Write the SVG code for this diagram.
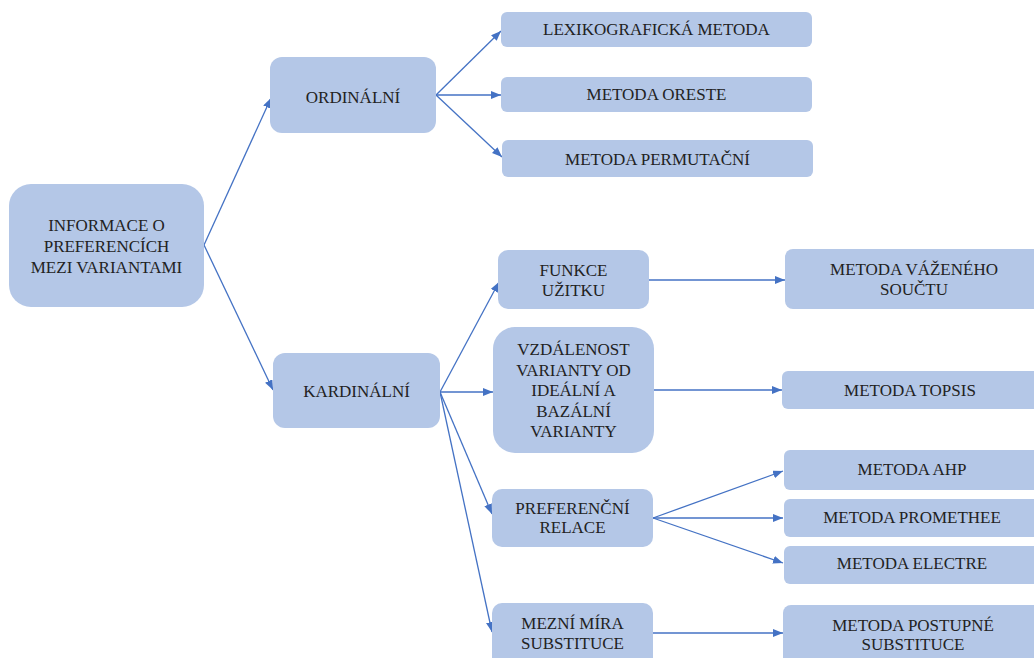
<svg xmlns="http://www.w3.org/2000/svg" width="1034" height="658" viewBox="0 0 1034 658">
<style>
.box{fill:#b4c7e7;}
.t{font-family:'Liberation Serif','Tinos','Times New Roman','DejaVu Serif','Noto Serif',serif;font-size:17px;fill:#222;text-anchor:middle;}
.c{stroke:#4472c4;stroke-width:1.3;fill:none;marker-end:url(#ah);}
</style>
<defs>
<marker id="ah" viewBox="0 0 10 8" refX="10" refY="4" markerWidth="10" markerHeight="8" markerUnits="userSpaceOnUse" orient="auto">
<path d="M0,0 L10,4 L0,8 z" fill="#4472c4"/>
</marker>
</defs>
<rect width="1034" height="658" fill="#fff"/>
<g id="connectors">
<line class="c" x1="204" y1="245" x2="271" y2="98"/>
<line class="c" x1="204" y1="245" x2="273" y2="390"/>
<line class="c" x1="436" y1="95" x2="501" y2="31"/>
<line class="c" x1="436" y1="95" x2="501" y2="95"/>
<line class="c" x1="436" y1="95" x2="502" y2="157"/>
<line class="c" x1="440" y1="392" x2="499" y2="282"/>
<line class="c" x1="440" y1="392" x2="493" y2="392"/>
<line class="c" x1="440" y1="392" x2="492" y2="514"/>
<line class="c" x1="440" y1="392" x2="492" y2="632"/>
<line class="c" x1="649" y1="280" x2="785" y2="280"/>
<line class="c" x1="654" y1="390" x2="782" y2="390"/>
<line class="c" x1="653" y1="518" x2="783" y2="471"/>
<line class="c" x1="653" y1="518" x2="783" y2="518"/>
<line class="c" x1="653" y1="518" x2="783" y2="563"/>
<line class="c" x1="653" y1="633" x2="783" y2="633"/>
</g>
<g id="root">
<rect class="box" x="9" y="184" width="195" height="123" rx="22"/>
<text class="t" font-family="Liberation Serif, serif" x="106.5" y="231">INFORMACE O</text>
<text class="t" x="106.5" y="252">PREFERENCÍCH</text>
<text class="t" x="106.5" y="273">MEZI VARIANTAMI</text>
</g>
<g id="ordinalni">
<rect class="box" x="270" y="57" width="166" height="76" rx="12"/>
<text class="t" x="353" y="103">ORDINÁLNÍ</text>
</g>
<g id="lexikograficka">
<rect class="box" x="501" y="12" width="311" height="35" rx="6"/>
<text class="t" x="656.5" y="35">LEXIKOGRAFICKÁ METODA</text>
</g>
<g id="oreste">
<rect class="box" x="501" y="77" width="311" height="35" rx="6"/>
<text class="t" x="656.5" y="100">METODA ORESTE</text>
</g>
<g id="permutacni">
<rect class="box" x="502" y="140" width="311" height="37" rx="6"/>
<text class="t" x="657.5" y="165">METODA PERMUTAČNÍ</text>
</g>
<g id="kardinalni">
<rect class="box" x="273" y="353" width="167" height="75" rx="12"/>
<text class="t" x="356.5" y="397">KARDINÁLNÍ</text>
</g>
<g id="funkce">
<rect class="box" x="498" y="250" width="151" height="59" rx="10"/>
<text class="t" x="573.5" y="276">FUNKCE</text>
<text class="t" x="573.5" y="296">UŽITKU</text>
</g>
<g id="vzdalenost">
<rect class="box" x="493" y="327" width="161" height="126" rx="22"/>
<text class="t" x="573.5" y="355">VZDÁLENOST</text>
<text class="t" x="573.5" y="375.5">VARIANTY OD</text>
<text class="t" x="573.5" y="396">IDEÁLNÍ A</text>
<text class="t" x="573.5" y="416.5">BAZÁLNÍ</text>
<text class="t" x="573.5" y="437">VARIANTY</text>
</g>
<g id="preferencni">
<rect class="box" x="492" y="489" width="161" height="58" rx="10"/>
<text class="t" x="572.5" y="514">PREFERENČNÍ</text>
<text class="t" x="572.5" y="533">RELACE</text>
</g>
<g id="mezni">
<rect class="box" x="492" y="603" width="161" height="70" rx="10"/>
<text class="t" x="572.5" y="629">MEZNÍ MÍRA</text>
<text class="t" x="572.5" y="649">SUBSTITUCE</text>
</g>
<g id="vazeneho">
<rect class="box" x="785" y="249" width="256" height="60" rx="8"/>
<text class="t" x="914" y="275">METODA VÁŽENÉHO</text>
<text class="t" x="914" y="295">SOUČTU</text>
</g>
<g id="topsis">
<rect class="box" x="782" y="371" width="258" height="38" rx="6"/>
<text class="t" x="910" y="396">METODA TOPSIS</text>
</g>
<g id="ahp">
<rect class="box" x="784" y="450" width="256" height="40" rx="6"/>
<text class="t" x="912" y="475">METODA AHP</text>
</g>
<g id="promethee">
<rect class="box" x="784" y="499" width="256" height="38" rx="6"/>
<text class="t" x="912" y="523">METODA PROMETHEE</text>
</g>
<g id="electre">
<rect class="box" x="784" y="546" width="256" height="38" rx="6"/>
<text class="t" x="912" y="569">METODA ELECTRE</text>
</g>
<g id="postupne">
<rect class="box" x="783" y="605" width="258" height="70" rx="8"/>
<text class="t" x="913" y="631">METODA POSTUPNÉ</text>
<text class="t" x="913" y="650">SUBSTITUCE</text>
</g>
</svg>
